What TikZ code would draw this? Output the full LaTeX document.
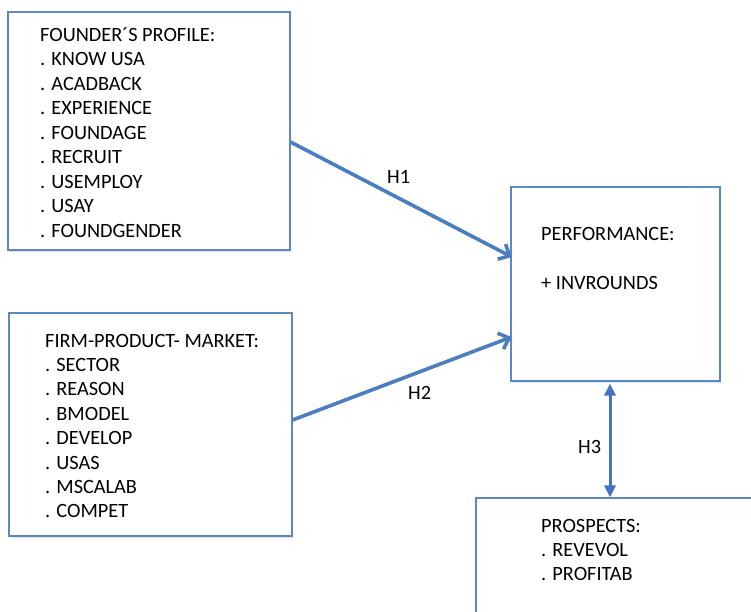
\documentclass[tikz,border=0pt]{standalone}
\usepackage{fontspec}
\setmainfont{Carlito}
\usetikzlibrary{arrows.meta,shadows}
\definecolor{boxblue}{HTML}{5B87C5}
\definecolor{arrowblue}{HTML}{4A7EC0}
\definecolor{dblblue}{HTML}{4472C4}
\begin{document}
\begin{tikzpicture}[x=1pt,y=-1pt,
  box/.style={draw=boxblue, line width=1.1pt, fill=white, rectangle, inner sep=0pt,
    drop shadow={shadow xshift=1.2pt,shadow yshift=-1.5pt,opacity=0.22}},
  lbl/.style={anchor=base west, inner sep=0pt, font=\fontsize{20.3}{24}\selectfont},
  conn/.style={draw=arrowblue, line width=3.6pt, -{Straight Barb[length=9pt,width=17pt]}},
  dconn/.style={draw=dblblue, line width=3pt, {Triangle[length=12pt,width=11pt]}-{Triangle[length=12pt,width=11pt]}}
]
\useasboundingbox (0,0) rectangle (751,611);
\clip (0,0) rectangle (751,611);
\fill[white] (0,0) rectangle (751,611);

% boxes
\node[box, minimum width=282pt, minimum height=238pt] (fp) at (149,131) {};
\node[box, minimum width=283pt, minimum height=223pt] (fpm) at (150.5,424.5) {};
\node[box, minimum width=209pt, minimum height=194pt] (perf) at (615.5,284) {};
\node[box, minimum width=324pt, minimum height=162pt] (pros) at (638,579) {};

% texts
\foreach \t [count=\i] in {FOUNDER´S PROFILE:, . KNOW USA, . ACADBACK, . EXPERIENCE, . FOUNDAGE, . RECRUIT, . USEMPLOY, . USAY, . FOUNDGENDER}
  \node[lbl] (fpt\i) at (40,{41+(\i-1)*24.5}) {\t};
\foreach \t [count=\i] in {FIRM-PRODUCT- MARKET:, . SECTOR, . REASON, . BMODEL, . DEVELOP, . USAS, . MSCALAB, . COMPET}
  \node[lbl] (fpmt\i) at (45,{347+(\i-1)*24.4}) {\t};
\node[lbl] (perft1) at (541,240) {PERFORMANCE:};
\node[lbl] (perft2) at (541,289) {+ INVROUNDS};
\foreach \t [count=\i] in {PROSPECTS:, . REVEVOL, . PROFITAB}
  \node[lbl] (prost\i) at (541,{532+(\i-1)*24}) {\t};

% connectors
\draw[conn] ([yshift=-11pt]fp.east) -- ([xshift=1.5pt,yshift=27pt]perf.west);
\draw[conn] ([yshift=4.5pt]fpm.east) -- ([xshift=1pt,yshift=-53pt]perf.west);
\draw[dconn] ([xshift=-5.5pt,yshift=-2pt]perf.south) -- ([xshift=-28pt]pros.north);

% labels
\node[lbl] (h1) at (387,183) {H1};
\node[lbl] (h2) at (408,399) {H2};
\node[lbl] (h3) at (578,453) {H3};
\end{tikzpicture}
\end{document}
